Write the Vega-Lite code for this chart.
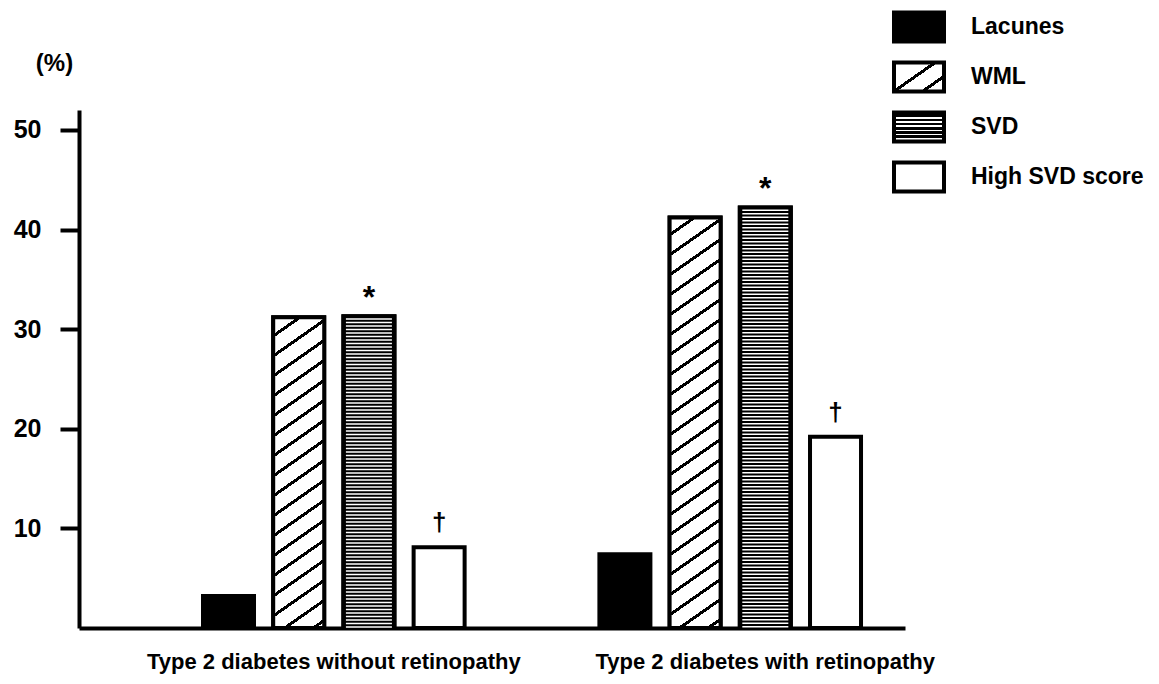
{
  "$schema": "https://vega.github.io/schema/vega-lite/v6.json",
  "width": 826,
  "height": 518,
  "autosize": {"type": "none"},
  "padding": {"left": 79, "top": 110, "right": 254, "bottom": 56},
  "background": "white",
  "config": {"view": {"stroke": null}, "font": "Liberation Sans"},
  "data": {
    "values": [
      {"group": "Type 2 diabetes without retinopathy", "type": "Lacunes", "value": 3.2, "sig": ""},
      {"group": "Type 2 diabetes without retinopathy", "type": "WML", "value": 31.2, "sig": ""},
      {"group": "Type 2 diabetes without retinopathy", "type": "SVD", "value": 31.3, "sig": "*"},
      {"group": "Type 2 diabetes without retinopathy", "type": "High SVD score", "value": 8.1, "sig": "†"},
      {"group": "Type 2 diabetes with retinopathy", "type": "Lacunes", "value": 7.4, "sig": ""},
      {"group": "Type 2 diabetes with retinopathy", "type": "WML", "value": 41.2, "sig": ""},
      {"group": "Type 2 diabetes with retinopathy", "type": "SVD", "value": 42.2, "sig": "*"},
      {"group": "Type 2 diabetes with retinopathy", "type": "High SVD score", "value": 19.2, "sig": "†"}
    ]
  },
  "encoding": {
    "x": {
      "field": "group",
      "type": "nominal",
      "sort": ["Type 2 diabetes without retinopathy", "Type 2 diabetes with retinopathy"],
      "scale": {"paddingInner": 0.34, "paddingOuter": 0.21188, "align": 0.7382},
      "axis": {
        "title": null,
        "labelAngle": 0,
        "labelFont": "Liberation Sans",
        "labelFontSize": 22,
        "labelFontWeight": "bold",
        "labelColor": "black",
        "labelPadding": 23,
        "labelLimit": 0,
        "labelBaseline": "top",
        "labelOffset": {"condition": {"test": "datum.value === 'Type 2 diabetes with retinopathy'", "value": 35}, "value": 0},
        "ticks": false,
        "domainWidth": 4,
        "domainColor": "black",
        "grid": false
      }
    },
    "xOffset": {
      "field": "type",
      "type": "nominal",
      "sort": ["Lacunes", "WML", "SVD", "High SVD score"],
      "scale": {"paddingInner": 0.2735, "paddingOuter": 0}
    },
    "y": {
      "field": "value",
      "type": "quantitative",
      "scale": {"domain": [0, 52], "nice": false},
      "axis": {
        "values": [10, 20, 30, 40, 50],
        "grid": false,
        "tickSize": 19,
        "tickWidth": 4,
        "tickColor": "black",
        "domainWidth": 4,
        "domainColor": "black",
        "labelFont": "Liberation Sans",
        "labelFontSize": 25,
        "labelFontWeight": "bold",
        "labelColor": "black",
        "labelPadding": 19,
        "title": "(%)",
        "titleAngle": 0,
        "titleX": -25,
        "titleY": -47,
        "titleAlign": "center",
        "titleBaseline": "middle",
        "titleFont": "Liberation Sans",
        "titleFontSize": 24,
        "titleFontWeight": "bold",
        "titleColor": "black"
      }
    }
  },
  "layer": [
    {
      "mark": {"type": "bar", "stroke": "black", "strokeWidth": 4},
      "encoding": {
        "fill": {
          "field": "type",
          "type": "nominal",
          "scale": {
            "domain": ["Lacunes", "WML", "SVD", "High SVD score"],
            "range": [
              "black",
              {"expr": "{gradient:'linear',x1:0,y1:0,x2:1.0842,y2:0.89836,stops:[{offset:0,color:'white'},{offset:0.4219,color:'white'},{offset:0.4219,color:'black'},{offset:0.4797,color:'black'},{offset:0.4797,color:'white'},{offset:0.7344,color:'white'},{offset:0.7344,color:'black'},{offset:0.7922,color:'black'},{offset:0.7922,color:'white'},{offset:1,color:'white'}]}"},
              {"expr": "{gradient:'linear',x1:0,y1:0,x2:0.0001,y2:1,stops:[{offset:0,color:'black'},{offset:0.1552,color:'black'},{offset:0.1552,color:'white'},{offset:0.2102,color:'white'},{offset:0.2102,color:'black'},{offset:0.3,color:'black'},{offset:0.3,color:'white'},{offset:0.355,color:'white'},{offset:0.355,color:'black'},{offset:0.4448,color:'black'},{offset:0.4448,color:'white'},{offset:0.4998,color:'white'},{offset:0.4998,color:'black'},{offset:0.5897,color:'black'},{offset:0.5897,color:'white'},{offset:0.6447,color:'white'},{offset:0.6447,color:'black'},{offset:0.7345,color:'black'},{offset:0.7345,color:'white'},{offset:0.7895,color:'white'},{offset:0.7895,color:'black'},{offset:0.8793,color:'black'},{offset:0.8793,color:'white'},{offset:0.9343,color:'white'},{offset:0.9343,color:'black'},{offset:1,color:'black'}]}"},
              "white"
            ]
          },
          "legend": {
            "orient": "none",
            "legendX": 813,
            "legendY": -110,
            "title": null,
            "direction": "vertical",
            "symbolType": "M-1,-0.58H1V0.58H-1Z",
            "symbolSize": 2500,
            "symbolStrokeWidth": 4,
            "symbolStrokeColor": "black",
            "symbolOpacity": 1,
            "labelFont": "Liberation Sans",
            "labelFontSize": 23,
            "labelFontWeight": "bold",
            "labelColor": "black",
            "labelOffset": 25,
            "labelLimit": 0,
            "rowPadding": 0,
            "padding": 0
          }
        }
      }
    },
    {
      "transform": [{"filter": "datum.type === 'WML' && datum.group === 'Type 2 diabetes without retinopathy'"}],
      "mark": {
        "type": "bar",
        "stroke": "black",
        "strokeWidth": 4,
        "fill": {
          "gradient": "linear", "x1": 0, "y1": 0, "x2": 0.12639, "y2": 1.10036,
          "stops": [
            {"offset": 0, "color": "white"},
            {"offset": 0.04906, "color": "white"}, {"offset": 0.04906, "color": "black"}, {"offset": 0.05962, "color": "black"}, {"offset": 0.05962, "color": "white"},
            {"offset": 0.10678, "color": "white"}, {"offset": 0.10678, "color": "black"}, {"offset": 0.11734, "color": "black"}, {"offset": 0.11734, "color": "white"},
            {"offset": 0.1645, "color": "white"}, {"offset": 0.1645, "color": "black"}, {"offset": 0.17506, "color": "black"}, {"offset": 0.17506, "color": "white"},
            {"offset": 0.22222, "color": "white"}, {"offset": 0.22222, "color": "black"}, {"offset": 0.23278, "color": "black"}, {"offset": 0.23278, "color": "white"},
            {"offset": 0.27994, "color": "white"}, {"offset": 0.27994, "color": "black"}, {"offset": 0.2905, "color": "black"}, {"offset": 0.2905, "color": "white"},
            {"offset": 0.33766, "color": "white"}, {"offset": 0.33766, "color": "black"}, {"offset": 0.34822, "color": "black"}, {"offset": 0.34822, "color": "white"},
            {"offset": 0.39538, "color": "white"}, {"offset": 0.39538, "color": "black"}, {"offset": 0.40594, "color": "black"}, {"offset": 0.40594, "color": "white"},
            {"offset": 0.4531, "color": "white"}, {"offset": 0.4531, "color": "black"}, {"offset": 0.46366, "color": "black"}, {"offset": 0.46366, "color": "white"},
            {"offset": 0.51082, "color": "white"}, {"offset": 0.51082, "color": "black"}, {"offset": 0.52138, "color": "black"}, {"offset": 0.52138, "color": "white"},
            {"offset": 0.56854, "color": "white"}, {"offset": 0.56854, "color": "black"}, {"offset": 0.5791, "color": "black"}, {"offset": 0.5791, "color": "white"},
            {"offset": 0.62626, "color": "white"}, {"offset": 0.62626, "color": "black"}, {"offset": 0.63682, "color": "black"}, {"offset": 0.63682, "color": "white"},
            {"offset": 0.68398, "color": "white"}, {"offset": 0.68398, "color": "black"}, {"offset": 0.69454, "color": "black"}, {"offset": 0.69454, "color": "white"},
            {"offset": 0.7417, "color": "white"}, {"offset": 0.7417, "color": "black"}, {"offset": 0.75226, "color": "black"}, {"offset": 0.75226, "color": "white"},
            {"offset": 0.79942, "color": "white"}, {"offset": 0.79942, "color": "black"}, {"offset": 0.80998, "color": "black"}, {"offset": 0.80998, "color": "white"},
            {"offset": 0.85714, "color": "white"}, {"offset": 0.85714, "color": "black"}, {"offset": 0.8677, "color": "black"}, {"offset": 0.8677, "color": "white"},
            {"offset": 0.91486, "color": "white"}, {"offset": 0.91486, "color": "black"}, {"offset": 0.92542, "color": "black"}, {"offset": 0.92542, "color": "white"},
            {"offset": 0.97258, "color": "white"}, {"offset": 0.97258, "color": "black"}, {"offset": 0.98314, "color": "black"}, {"offset": 0.98314, "color": "white"},
            {"offset": 1, "color": "white"}
          ]
        }
      }
    },
    {
      "transform": [{"filter": "datum.type === 'WML' && datum.group === 'Type 2 diabetes with retinopathy'"}],
      "mark": {
        "type": "bar",
        "stroke": "black",
        "strokeWidth": 4,
        "fill": {
          "gradient": "linear", "x1": 0, "y1": 0, "x2": 0.093845, "y2": 1.07882,
          "stops": [
            {"offset": 0, "color": "white"},
            {"offset": 0.03475, "color": "white"}, {"offset": 0.03475, "color": "black"}, {"offset": 0.04295, "color": "black"}, {"offset": 0.04295, "color": "white"},
            {"offset": 0.07958, "color": "white"}, {"offset": 0.07958, "color": "black"}, {"offset": 0.08778, "color": "black"}, {"offset": 0.08778, "color": "white"},
            {"offset": 0.12441, "color": "white"}, {"offset": 0.12441, "color": "black"}, {"offset": 0.13261, "color": "black"}, {"offset": 0.13261, "color": "white"},
            {"offset": 0.16924, "color": "white"}, {"offset": 0.16924, "color": "black"}, {"offset": 0.17745, "color": "black"}, {"offset": 0.17745, "color": "white"},
            {"offset": 0.21408, "color": "white"}, {"offset": 0.21408, "color": "black"}, {"offset": 0.22228, "color": "black"}, {"offset": 0.22228, "color": "white"},
            {"offset": 0.25891, "color": "white"}, {"offset": 0.25891, "color": "black"}, {"offset": 0.26711, "color": "black"}, {"offset": 0.26711, "color": "white"},
            {"offset": 0.30374, "color": "white"}, {"offset": 0.30374, "color": "black"}, {"offset": 0.31195, "color": "black"}, {"offset": 0.31195, "color": "white"},
            {"offset": 0.34858, "color": "white"}, {"offset": 0.34858, "color": "black"}, {"offset": 0.35678, "color": "black"}, {"offset": 0.35678, "color": "white"},
            {"offset": 0.39341, "color": "white"}, {"offset": 0.39341, "color": "black"}, {"offset": 0.40161, "color": "black"}, {"offset": 0.40161, "color": "white"},
            {"offset": 0.43824, "color": "white"}, {"offset": 0.43824, "color": "black"}, {"offset": 0.44645, "color": "black"}, {"offset": 0.44645, "color": "white"},
            {"offset": 0.48308, "color": "white"}, {"offset": 0.48308, "color": "black"}, {"offset": 0.49128, "color": "black"}, {"offset": 0.49128, "color": "white"},
            {"offset": 0.52791, "color": "white"}, {"offset": 0.52791, "color": "black"}, {"offset": 0.53611, "color": "black"}, {"offset": 0.53611, "color": "white"},
            {"offset": 0.57274, "color": "white"}, {"offset": 0.57274, "color": "black"}, {"offset": 0.58095, "color": "black"}, {"offset": 0.58095, "color": "white"},
            {"offset": 0.61758, "color": "white"}, {"offset": 0.61758, "color": "black"}, {"offset": 0.62578, "color": "black"}, {"offset": 0.62578, "color": "white"},
            {"offset": 0.66241, "color": "white"}, {"offset": 0.66241, "color": "black"}, {"offset": 0.67061, "color": "black"}, {"offset": 0.67061, "color": "white"},
            {"offset": 0.70724, "color": "white"}, {"offset": 0.70724, "color": "black"}, {"offset": 0.71544, "color": "black"}, {"offset": 0.71544, "color": "white"},
            {"offset": 0.75207, "color": "white"}, {"offset": 0.75207, "color": "black"}, {"offset": 0.76028, "color": "black"}, {"offset": 0.76028, "color": "white"},
            {"offset": 0.79691, "color": "white"}, {"offset": 0.79691, "color": "black"}, {"offset": 0.80511, "color": "black"}, {"offset": 0.80511, "color": "white"},
            {"offset": 0.84174, "color": "white"}, {"offset": 0.84174, "color": "black"}, {"offset": 0.84994, "color": "black"}, {"offset": 0.84994, "color": "white"},
            {"offset": 0.88657, "color": "white"}, {"offset": 0.88657, "color": "black"}, {"offset": 0.89478, "color": "black"}, {"offset": 0.89478, "color": "white"},
            {"offset": 0.93141, "color": "white"}, {"offset": 0.93141, "color": "black"}, {"offset": 0.93961, "color": "black"}, {"offset": 0.93961, "color": "white"},
            {"offset": 0.97624, "color": "white"}, {"offset": 0.97624, "color": "black"}, {"offset": 0.98444, "color": "black"}, {"offset": 0.98444, "color": "white"},
            {"offset": 1, "color": "white"}
          ]
        }
      }
    },
    {
      "transform": [{"filter": "datum.type === 'SVD'"}],
      "mark": {"type": "bar", "fill": "black", "stroke": "black", "strokeWidth": 4}
    },
    {
      "transform": [{"filter": "datum.type === 'SVD'"}],
      "mark": {"type": "rule", "stroke": "white", "strokeWidth": 46, "strokeDash": [1.5, 2], "strokeDashOffset": 1.5, "strokeCap": "butt"},
      "encoding": {"y2": {"datum": 0}}
    },
    {
      "transform": [{"filter": "datum.sig === '*'"}],
      "mark": {"type": "text", "font": "Liberation Sans", "fontWeight": "bold", "fontSize": 32, "baseline": "alphabetic", "dy": -8.5, "color": "black"},
      "encoding": {"text": {"field": "sig"}}
    },
    {
      "transform": [{"filter": "datum.sig === '†'"}],
      "mark": {"type": "text", "font": "Liberation Sans", "fontWeight": "bold", "fontSize": 26, "baseline": "alphabetic", "dy": -16, "color": "black"},
      "encoding": {"text": {"field": "sig"}}
    }
  ]
}
